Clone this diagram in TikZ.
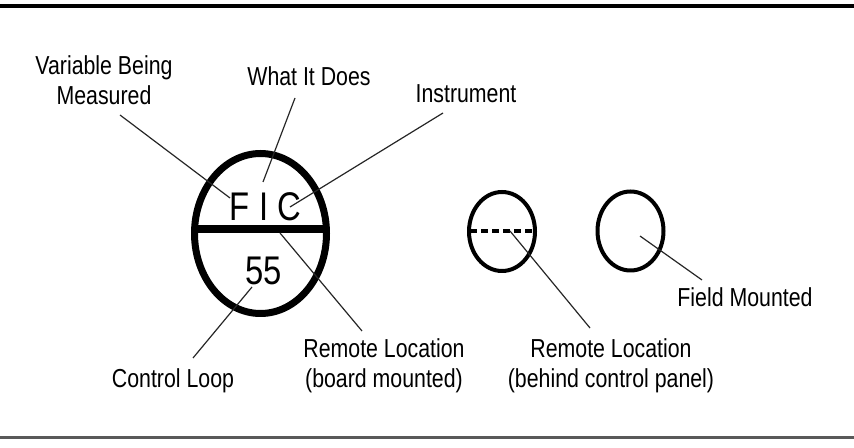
\documentclass[tikz,border=0pt]{standalone}
\usepackage{fontspec}
\setmainfont{Liberation Sans}[FakeStretch=0.82]

\tikzset{
	lbl/.style={inner sep=0.75pt, font=\fontsize{19.5}{22.5}\selectfont, align=center},
	tag/.style={inner sep=0.75pt, font=\fontsize{30}{34}\selectfont},
	leader/.style={line width=0.9pt, draw=black!85},
}

\begin{document}
\begin{tikzpicture}[x=0.75pt,y=0.75pt,yscale=-1,xscale=1]
	\useasboundingbox (0,0) rectangle (854,448);
	
	%Straight Lines [top rule]
	\draw  [line width=3pt]  (0,6.5) -- (854,6.5) ;
	%Straight Lines [bottom rule]
	\draw  [line width=2pt, color=black!65]  (0,437.5) -- (854,437.5) ;
	
	%Shape: Ellipse [board mounted]
	\draw  [line width=5.25pt]  (260.5,233.5) ellipse (66 and 80) ;
	%Straight Lines [panel bar]
	\draw  [line width=6pt]  (194.6,229) -- (326.4,229) ;
	%Shape: Ellipse [behind panel]
	\draw  [line width=3pt]  (502,231.5) ellipse (33 and 39.5) ;
	%Straight Lines [hidden bar]
	\draw  [line width=3pt, dash pattern={on 5.25pt off 3pt}]  (470,231) -- (534,231) ;
	%Shape: Ellipse [field]
	\draw  [line width=3pt]  (630.5,231) ellipse (33 and 39.5) ;
	
	% Text Node
	\node [tag, anchor=base] (fic) at (265.5,221) {F I C};
	% Text Node
	\node [tag, anchor=base] (loopno) at (263.5,285) {55};
	
	% Text Node
	\node [lbl] (var) at (104,80) {Variable Being\\Measured};
	% Text Node
	\node [lbl, anchor=base] (what) at (309,86) {What It Does};
	% Text Node
	\node [lbl, anchor=base] (inst) at (466,103) {Instrument};
	% Text Node
	\node [lbl, anchor=base] (loop) at (173,388) {Control Loop};
	% Text Node
	\node [lbl] (board) at (384,365.5) {Remote Location\\(board mounted)};
	% Text Node
	\node [lbl] (behind) at (611,365.5) {Remote Location\\(behind control panel)};
	% Text Node
	\node [lbl, anchor=base] (field) at (745,307) {Field Mounted};
	
	%Leader ends
	\coordinate (varA) at (120,115);   \coordinate (varB) at (230,198);
	\coordinate (whatA) at (295,98);   \coordinate (whatB) at (263,182);
	\coordinate (instA) at (443,113);  \coordinate (instB) at (290,207);
	\coordinate (loopA) at (193,358);  \coordinate (loopB) at (252,287);
	\coordinate (boardA) at (362,331); \coordinate (boardB) at (280,233);
	\coordinate (behindA) at (590,328); \coordinate (behindB) at (510,231);
	\coordinate (fieldA) at (702,280); \coordinate (fieldB) at (640,236);
	
	%Straight Lines [leaders]
	\foreach \n in {var,what,inst,loop,board,behind,field}
		\draw [leader] (\n A) -- (\n B) ;
	
\end{tikzpicture}
\end{document}
